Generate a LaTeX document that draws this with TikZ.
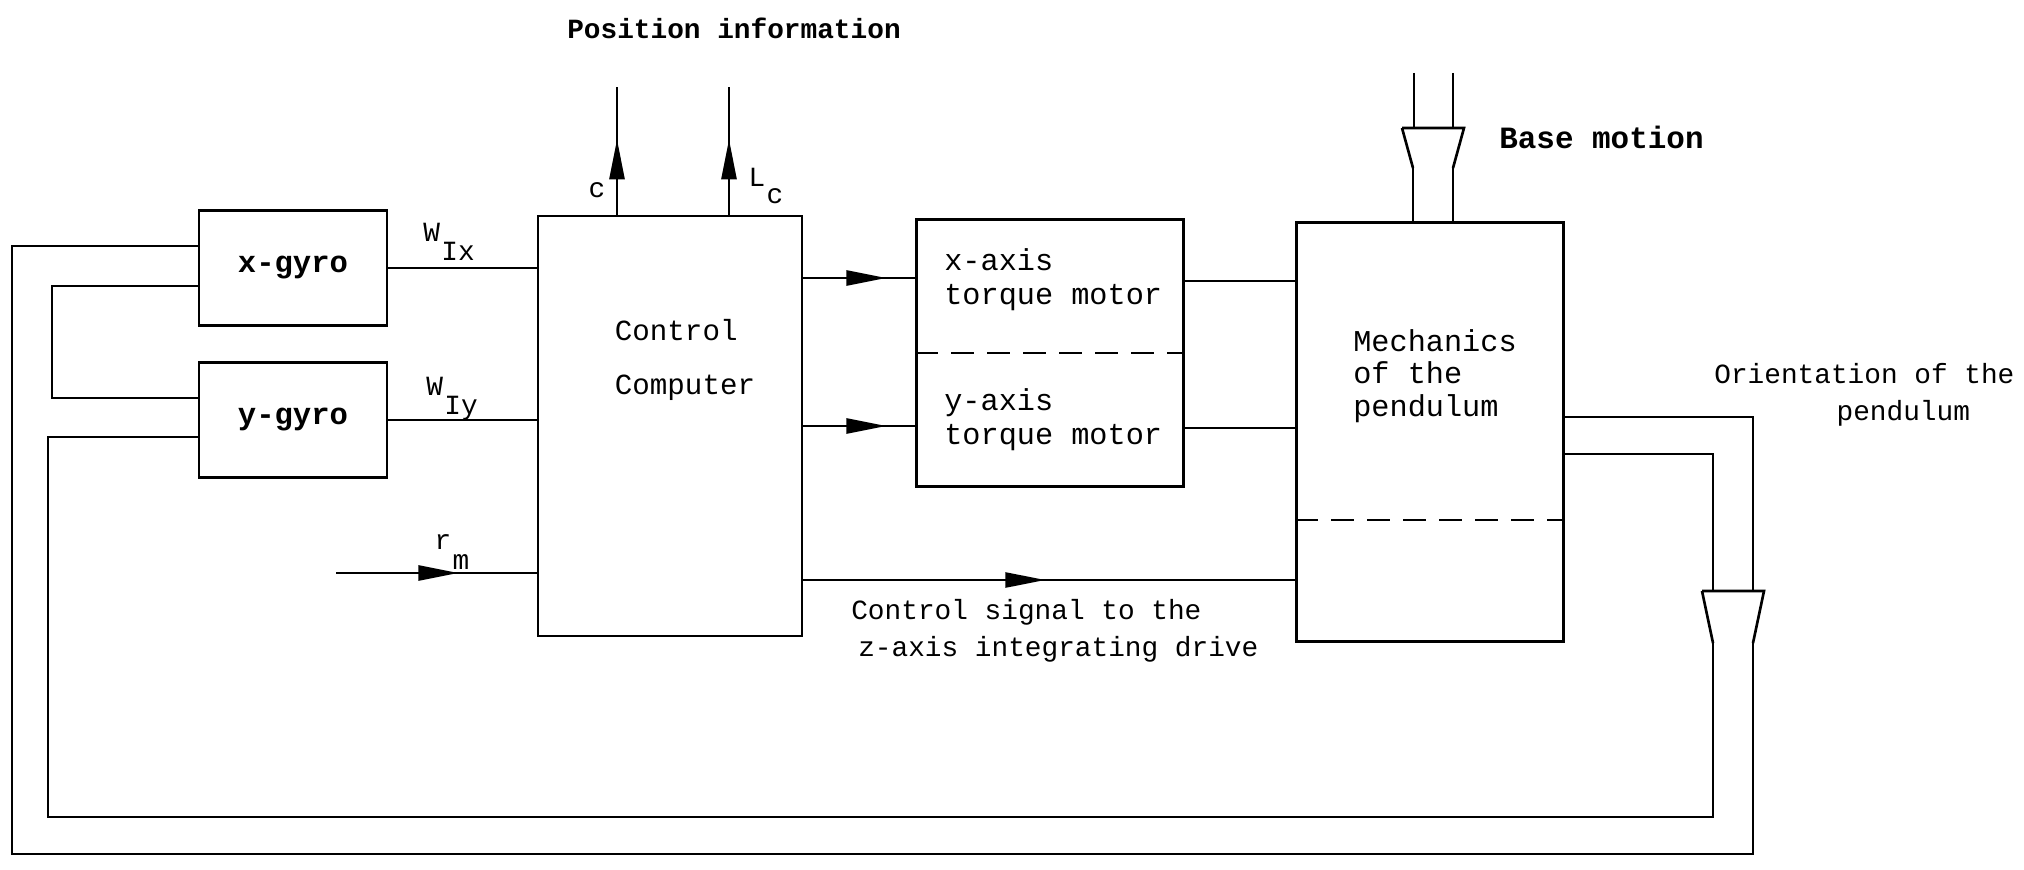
\documentclass[tikz,border=0pt]{standalone}
\usepackage{fontspec}
\setmonofont{Liberation Mono}
\usetikzlibrary{arrows.meta,positioning,decorations.markings}

\begin{document}
\begin{tikzpicture}[
  x=0.01cm, y=-0.01cm,
  line width=0.75pt,
  box/.style={draw, inner sep=0pt},
  gyro/.style={box, minimum width=1.88cm, minimum height=1.15cm,
               font=\fontsize{8.7}{9.6}\selectfont\ttfamily\bfseries},
  txt/.style={inner sep=0pt, align=left,
              font=\fontsize{8.6}{9.6}\selectfont\ttfamily},
  lbl/.style={inner sep=0pt, align=left,
              font=\fontsize{7.9}{10.4}\selectfont\ttfamily},
  ttl/.style={inner sep=0pt,
              font=\fontsize{7.9}{9.6}\selectfont\ttfamily\bfseries},
  arr/.style={postaction={decorate}, decoration={markings,
              mark=at position #1 with {\arrow{Triangle[length=4mm, width=1.5mm]}}}},
  dsh/.style={dash pattern=on 0.23cm off 0.13cm},
  pics/coupler/.style={code={\draw (-31,0) -- (31,0) -- (20,#1) (-31,0) -- (-20,#1);}},
]
\useasboundingbox (0,0) rectangle (2024,870);

% blocks
\node[gyro] (xgyro) at (293,268) {x-gyro};
\node[gyro] (ygyro) at (293,420) {y-gyro};
\node[box, minimum width=2.64cm, minimum height=4.2cm] (cc) at (670,426) {};
\node[txt, font=\fontsize{8.3}{9.6}\selectfont\ttfamily] (cclbl) at (685,360) {Control\\[5.5pt]Computer};
\node[box, minimum width=2.67cm, minimum height=2.67cm] (motor) at (1050,353) {};
\node[txt, anchor=west] (xmot) at (943,280) {x-axis\\torque motor};
\node[txt, anchor=west] (ymot) at (943,420) {y-axis\\torque motor};
\draw[dsh] (motor.west) -- (motor.east);
\node[box, minimum width=2.67cm, minimum height=4.19cm] (mech) at (1430,432) {};
\node[txt, font=\fontsize{8.6}{9.2}\selectfont\ttfamily, anchor=west] (mechlbl) at (1352,376) {Mechanics\\of the\\pendulum};
\draw[dsh] (mech.west |- 0,520) -- (mech.east |- 0,520);

% free ends
\coordinate (cout) at (617,87);
\coordinate (lcout) at (729,87);
\coordinate (rmin) at (336,573);
\coordinate (xin) at (917,278);
\coordinate (yin) at (917,426);
\coordinate (xout) at (1297,281);
\coordinate (yout) at (1297,428);
\coordinate (zin) at (1297,580);

% signals
\draw (xgyro.east) -- (xgyro.east -| cc.west);
\draw (ygyro.east) -- (ygyro.east -| cc.west);
\draw[arr=0.59] (cc.north -| cout) -- (cout);
\draw[arr=0.59] (cc.north -| lcout) -- (lcout);
\draw[arr=0.61] (rmin) -- (rmin -| cc.west);
\draw[arr=0.73] (cc.east |- xin) -- (xin);
\draw[arr=0.73] (cc.east |- yin) -- (yin);
\draw[arr=0.49] (cc.east |- zin) -- (zin);
\draw (motor.east |- xout) -- (xout);
\draw (motor.east |- yout) -- (yout);

% base motion coupling
\pic at (1433,128) {coupler=40};
\draw (1414,73) -- (1414,128) (1453,73) -- (1453,128);
\draw (1413,168) -- (mech.north -| 1413,0) (1453,168) -- (mech.north -| 1453,0);

% pendulum orientation back to the gyros
\pic at (1733,591) {coupler=52};
\draw (mech.east |- 0,417) -| (1753,591);
\draw (mech.east |- 0,454) -| (1713,591);
\draw (1753,643) |- (12,854) |- (xgyro.west |- 0,246);
\draw (1713,643) |- (48,817) |- (ygyro.west |- 0,437);
\draw (xgyro.west |- 0,286) -| (52,398) -- (ygyro.west |- 0,398);

% labels
\node[ttl] (posinfo) at (734,28) {Position information};
\node[ttl, font=\fontsize{8.8}{9.6}\selectfont\ttfamily\bfseries, anchor=west] (basemot) at (1498,137) {Base motion};
\node[lbl, align=center, anchor=west] (orient) at (1713,395) {Orientation of the\\\hspace*{2.8em}pendulum};
\node[lbl, anchor=west] (zlbl) at (850,631) {Control signal to the\\\hspace*{0.25em}z-axis integrating drive};
\node[lbl] (wix) at (449,242) {W\kern0.05em\raisebox{-1.3ex}{Ix}};
\node[lbl] (wiy) at (452,399) {W\kern0.05em\raisebox{-1.3ex}{Iy}};
\node[lbl] (rm) at (452,552) {r\kern0.05em\raisebox{-1.3ex}{m}};
\node[lbl] (clbl) at (597,190) {c};
\node[lbl] (lclbl) at (766,186) {L\kern0.05em\raisebox{-1.2ex}{c}};
\end{tikzpicture}
\end{document}
